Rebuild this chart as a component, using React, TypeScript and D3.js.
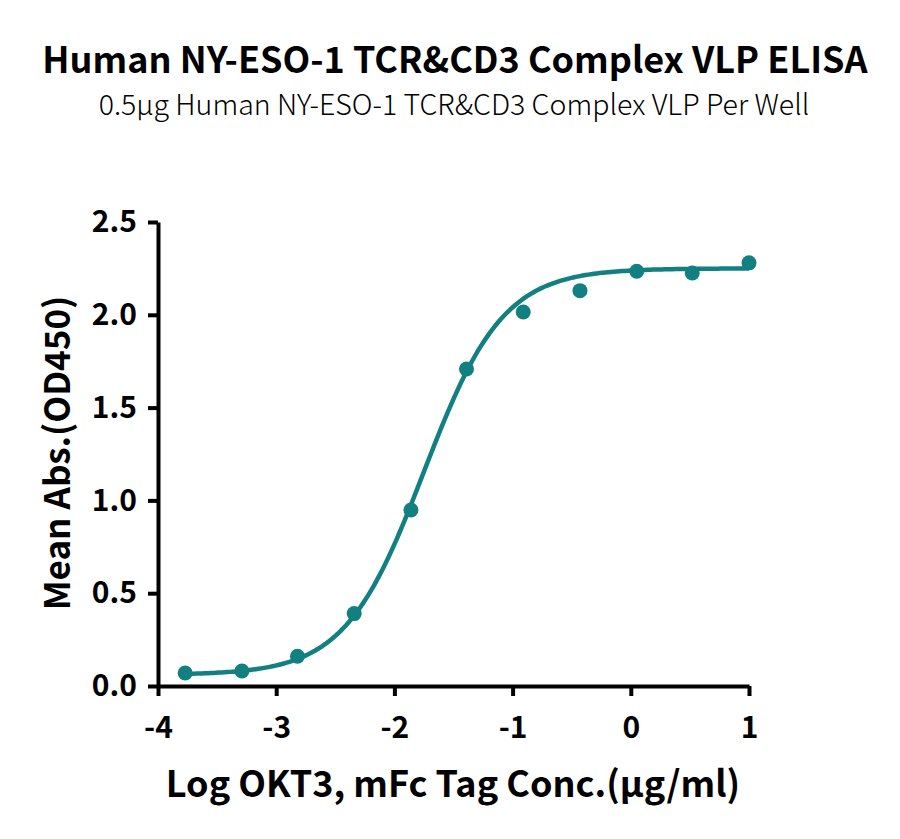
import React, { useEffect, useRef } from "react";
import * as d3 from "d3";

// log10 of OKT3 concentration (3-fold dilutions from 10 µg/ml)
const logConc = [-3.77, -3.29, -2.82, -2.34, -1.86, -1.39, -0.91, -0.43, 0.05, 0.52, 1.0];
const meanAbs = [0.07, 0.081, 0.16, 0.39, 0.948, 1.708, 2.015, 2.13, 2.235, 2.225, 2.28];

// four-parameter logistic fit
const fitBottom = 0.06;
const fitTop = 2.25;
const fitLogEC50 = -1.75;
const fitHill = 1.3;

const xTicks = [-4, -3, -2, -1, 0, 1];
const yTicks = [0, 0.5, 1.0, 1.5, 2.0, 2.5];

const title = "Human NY-ESO-1 TCR&CD3 Complex VLP ELISA";
const subtitle = "0.5µg Human NY-ESO-1 TCR&CD3 Complex VLP Per Well";
const xLabel = "Log OKT3, mFc Tag Conc.(µg/ml)";
const yLabel = "Mean Abs.(OD450)";

const WIDTH = 900;
const HEIGHT = 839;
const FONT = "'Noto Sans CJK SC', 'Noto Sans', sans-serif";
const TEAL = "#127f80";

const App = (): JSX.Element => {
  const ref = useRef<SVGSVGElement>(null);

  useEffect(() => {
    const svg = d3.select(ref.current);
    svg.selectAll("*").remove();

    const x = d3.scaleLinear().domain([-4, 1]).range([158, 749]);
    const y = d3.scaleLinear().domain([0, 2.5]).range([686, 222]);

    svg
      .append("text")
      .attr("x", 455)
      .attr("y", 73)
      .attr("text-anchor", "middle")
      .style("font-family", FONT)
      .style("font-weight", "bold")
      .style("font-size", "36px")
      .text(title);

    svg
      .append("text")
      .attr("x", 454)
      .attr("y", 115)
      .attr("text-anchor", "middle")
      .style("font-family", FONT)
      .style("font-weight", 300)
      .style("font-size", "28.5px")
      .text(subtitle);

    const xAxis = svg
      .append("g")
      .attr("transform", `translate(0,${y(0)})`)
      .call(
        d3
          .axisBottom(x)
          .tickValues(xTicks)
          .tickFormat(d3.format("d"))
          .tickSize(10)
          .tickSizeOuter(0)
          .tickPadding(21)
      );

    const yAxis = svg
      .append("g")
      .attr("transform", `translate(${x(-4)},0)`)
      .call(
        d3
          .axisLeft(y)
          .tickValues(yTicks)
          .tickFormat(d3.format(".1f"))
          .tickSize(10)
          .tickSizeOuter(0)
          .tickPadding(11)
      );

    [xAxis, yAxis].forEach((g) => {
      g.select(".domain").attr("stroke", "#000").attr("stroke-width", 4);
      g.selectAll(".tick line").attr("stroke", "#000").attr("stroke-width", 4);
      g.selectAll(".tick text")
        .attr("fill", "#000")
        .style("font-family", FONT)
        .style("font-weight", "bold")
        .style("font-size", "30px");
    });
    xAxis.selectAll(".tick text").text((d: any) => (d < 0 ? `-${-d}` : `${d}`));

    svg
      .append("text")
      .attr("x", 453)
      .attr("y", 797)
      .attr("text-anchor", "middle")
      .style("font-family", FONT)
      .style("font-weight", "bold")
      .style("font-size", "36px")
      .text(xLabel);

    svg
      .append("text")
      .attr("transform", `translate(70,${453}) rotate(-90)`)
      .attr("text-anchor", "middle")
      .style("font-family", FONT)
      .style("font-weight", "bold")
      .style("font-size", "35px")
      .text(yLabel);

    const fit = (lx: number) =>
      fitBottom + (fitTop - fitBottom) / (1 + Math.pow(10, (fitLogEC50 - lx) * fitHill));
    const first = logConc[0];
    const last = logConc[logConc.length - 1];
    const curveX = d3.range(0, 201).map((i) => first + ((last - first) * i) / 200);

    svg
      .append("path")
      .datum(curveX)
      .attr("fill", "none")
      .attr("stroke", TEAL)
      .attr("stroke-width", 4.5)
      .attr(
        "d",
        d3
          .line<number>()
          .x((d) => x(d))
          .y((d) => y(fit(d)))
      );

    svg
      .append("g")
      .selectAll("circle")
      .data(logConc)
      .join("circle")
      .attr("cx", (d) => x(d))
      .attr("cy", (d, i) => y(meanAbs[i]))
      .attr("r", 7.5)
      .attr("fill", TEAL);
  }, []);

  return (
    <svg
      ref={ref}
      width={WIDTH}
      height={HEIGHT}
      style={{ position: "absolute", left: 0, top: 0, background: "#fff" }}
    />
  );
};

export default App;
